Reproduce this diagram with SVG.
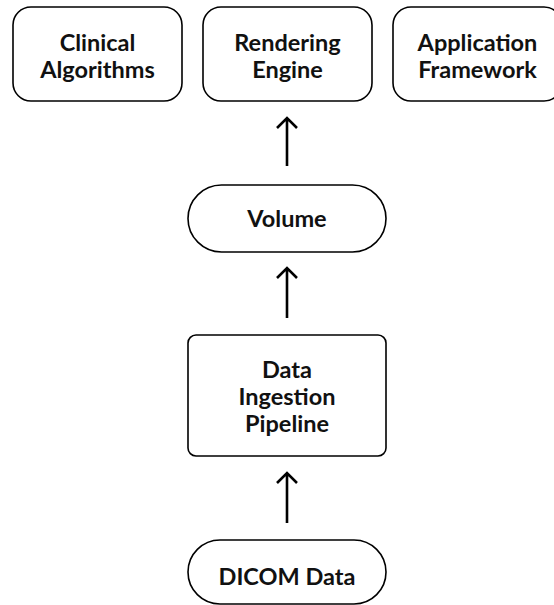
<svg xmlns="http://www.w3.org/2000/svg" width="554" height="605" viewBox="0 0 554 605">
<style>
.box{fill:#fff;stroke:#000;stroke-width:1.6}
.t{font-family:Lato,"Noto Sans",sans-serif;font-weight:bold;font-size:23.5px;fill:#111;text-anchor:middle}
.c{stroke:#000;stroke-width:2.6;fill:none;stroke-linecap:butt}
</style>
<rect width="554" height="605" fill="#fff"/>
<g id="clinical">
<rect class="box" x="13" y="7" width="169" height="94" rx="18"/>
<text class="t" x="97.5" y="51">Clinical</text>
<text class="t" x="97.5" y="78">Algorithms</text>
</g>
<g id="rendering">
<rect class="box" x="203" y="7" width="169" height="94" rx="18"/>
<text class="t" x="287.5" y="51">Rendering</text>
<text class="t" x="287.5" y="78">Engine</text>
</g>
<g id="application">
<rect class="box" x="393" y="7" width="169" height="94" rx="18"/>
<text class="t" x="477.5" y="51">Application</text>
<text class="t" x="477.5" y="78">Framework</text>
</g>
<g id="volume">
<rect class="box" x="188" y="185" width="198" height="67" rx="33.5"/>
<text class="t" x="287" y="227">Volume</text>
</g>
<g id="pipeline">
<rect class="box" x="188" y="335" width="198" height="121" rx="8"/>
<text class="t" x="287" y="378">Data</text>
<text class="t" x="287" y="405">Ingestion</text>
<text class="t" x="287" y="432">Pipeline</text>
</g>
<g id="dicom">
<rect class="box" x="188" y="540" width="198" height="64" rx="32"/>
<text class="t" x="287" y="585">DICOM Data</text>
</g>
<g id="connectors">
<path class="c" d="M287 166V118M277 128L287 118L297 128"/>
<path class="c" d="M287 318V268M277 278L287 268L297 278"/>
<path class="c" d="M287 523V473M277 483L287 473L297 483"/>
</g>
</svg>
